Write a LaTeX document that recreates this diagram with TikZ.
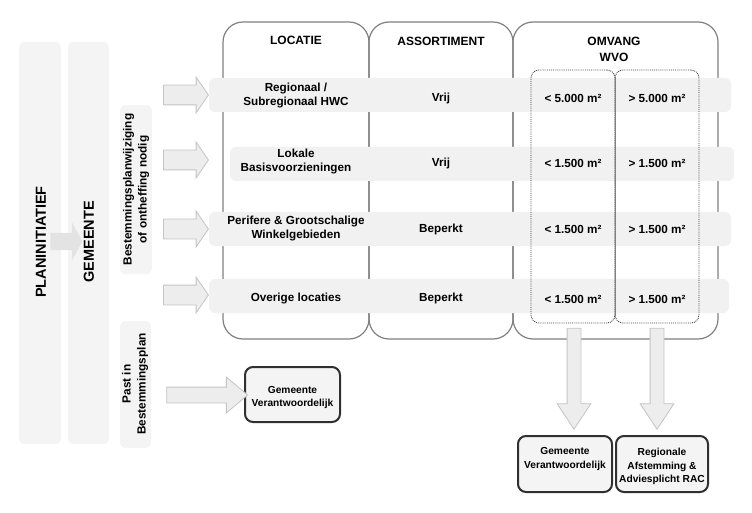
\documentclass[tikz,border=0pt]{standalone}
\usepackage{fontspec}
\setmainfont{Liberation Sans}
\usetikzlibrary{shapes,arrows}

\definecolor{bargray}{HTML}{F4F4F4}
\definecolor{bandgray}{HTML}{F1F1F1}
\definecolor{linegray}{HTML}{808080}
\definecolor{arrowfill}{HTML}{EDEDED}
\definecolor{arrowline}{HTML}{C4C4C4}
\definecolor{boxline}{HTML}{303030}

\begin{document}
\begin{tikzpicture}[x=1pt,y=-1pt,
    bar/.style={rectangle, fill=bargray, rounded corners=5pt, inner sep=0pt},
    colbox/.style={rectangle, draw=linegray, line width=1.2pt, rounded corners=20pt,
                   minimum height=317pt, inner sep=0pt},
    band/.style={rectangle, fill=bandgray, rounded corners=6pt,
                 minimum height=34pt, inner sep=0pt},
    sizebox/.style={rectangle, draw=black!75, densely dotted, line width=0.9pt,
                    rounded corners=8pt, minimum width=84pt, minimum height=253pt, inner sep=0pt},
    rowarrow/.style={single arrow, draw=arrowline, fill=arrowfill, line width=0.8pt,
                     minimum height=45pt, inner sep=9.5pt,
                     single arrow head extend=8pt, single arrow tip angle=111},
    downarrow/.style={single arrow, draw=arrowline, fill=arrowfill, line width=0.8pt,
                      shape border rotate=270, minimum height=101pt, inner sep=6.5pt,
                      single arrow head extend=10pt, single arrow tip angle=67},
    resbox/.style={rectangle, draw=boxline, fill=bargray, line width=2pt,
                   rounded corners=8pt, inner sep=0pt},
    bigtxt/.style={font=\bfseries\fontsize{14.5}{17}\selectfont, rotate=90},
    sidetxt/.style={font=\bfseries\fontsize{11.8}{15}\selectfont, rotate=90, align=center},
    headtxt/.style={font=\bfseries\fontsize{12}{16}\selectfont, align=center},
    celltxt/.style={font=\bfseries\fontsize{11.7}{14}\selectfont, align=center},
    restxt/.style={font=\bfseries\fontsize{10.2}{13.5}\selectfont, align=center}]

  \useasboundingbox (0,0) rectangle (752,513);

  % left bars
  \node[bar, minimum width=42pt, minimum height=402pt] (plan) at (40,243) {};
  \node[bar, minimum width=41pt, minimum height=402pt] (gem) at (88.5,243) {};
  \node[bar, minimum width=32pt, minimum height=169pt] (wijz) at (136,189.5) {};
  \node[bar, minimum width=31pt, minimum height=127pt] (past) at (135.5,384.5) {};

  \node[single arrow,
        fill = black!11,
        minimum height = 32pt,
        inner sep = 8.5pt,
        single arrow head extend = 10pt,
        single arrow tip angle = 123] (pg) at (64,241.5) {};

  \node[bigtxt] at (41,242) {PLANINITIATIEF};
  \node[bigtxt] at (89,242) {GEMEENTE};
  \node[sidetxt] at (wijz.center) {Bestemmingsplanwijziging\\of ontheffing nodig};
  \node[sidetxt] at (135,384) {Past in\\Bestemmingsplan};

  % columns
  \node[colbox, minimum width=146pt] (loc) at (296,180.5) {};
  \node[colbox, minimum width=144pt] (ass) at (441,180.5) {};
  \node[colbox, minimum width=205pt] (omv) at (615.5,180.5) {};

  \node[headtxt] at (296,40) {LOCATIE};
  \node[headtxt] at (441,41) {ASSORTIMENT};
  \node[headtxt] at (614,49) {OMVANG\\WVO};

  % rows
  \node[band, minimum width=522pt] (r1) at (470,95) {};
  \node[band, minimum width=504pt] (r2) at (482,164) {};
  \node[band, minimum width=522pt] (r3) at (470,229) {};
  \node[band, minimum width=520pt] (r4) at (469,296) {};

  \node[rowarrow] (a1) at (182.5,95) {};
  \node[rowarrow] (a2) at (182.5,160) {};
  \node[rowarrow] (a3) at (182.5,229) {};
  \node[rowarrow] (a4) at (182.5,295) {};

  % size columns
  \node[sizebox] (lt) at (573,196.5) {};
  \node[sizebox] (gt) at (657,196.5) {};
  \draw[linegray, line width=1pt] ([yshift=-7pt]lt.north east) -- ([yshift=7pt]lt.south east);

  \node[celltxt] at (296,96) {Regionaal /\\Subregionaal HWC};
  \node[celltxt] at (441,98) {Vrij};
  \node[celltxt] at (lt.center |- 0,98) {< 5.000 m²};
  \node[celltxt] at (gt.center |- 0,98) {> 5.000 m²};

  \node[celltxt] at (296,162) {Lokale\\Basisvoorzieningen};
  \node[celltxt] at (441,163) {Vrij};
  \node[celltxt] at (lt.center |- 0,163) {< 1.500 m²};
  \node[celltxt] at (gt.center |- 0,163) {> 1.500 m²};

  \node[celltxt] at (296,229) {Perifere \& Grootschalige\\Winkelgebieden};
  \node[celltxt] at (441,229) {Beperkt};
  \node[celltxt] at (lt.center |- 0,229) {< 1.500 m²};
  \node[celltxt] at (gt.center |- 0,229) {> 1.500 m²};

  \node[celltxt] at (296,298) {Overige locaties};
  \node[celltxt] at (441,298) {Beperkt};
  \node[celltxt] at (lt.center |- 0,299) {< 1.500 m²};
  \node[celltxt] at (gt.center |- 0,299) {> 1.500 m²};

  % results
  \node[resbox, minimum width=95pt, minimum height=55pt] (gv1) at (292.5,394.5) {};
  \node[restxt] at (292.5,397.5) {Gemeente\\Verantwoordelijk};

  \node[single arrow,
        draw = arrowline,
        fill = arrowfill,
        line width = 0.8pt,
        minimum height = 81pt,
        inner sep = 7.5pt,
        single arrow head extend = 10pt,
        single arrow tip angle = 80] (pa) at (202.5,395) {};

  \node[resbox, minimum width=94pt, minimum height=56pt] (gv2) at (565,464) {};
  \node[restxt] at (565,459) {Gemeente\\Verantwoordelijk};

  \node[resbox, minimum width=92pt, minimum height=56pt] (rac) at (662,464) {};
  \node[restxt] at (662,466.5) {Regionale\\Afstemming \&\\Adviesplicht RAC};

  \node[downarrow] (d1) at (574,373.5) {};
  \node[downarrow] (d2) at (657,373.5) {};

\end{tikzpicture}
\end{document}
